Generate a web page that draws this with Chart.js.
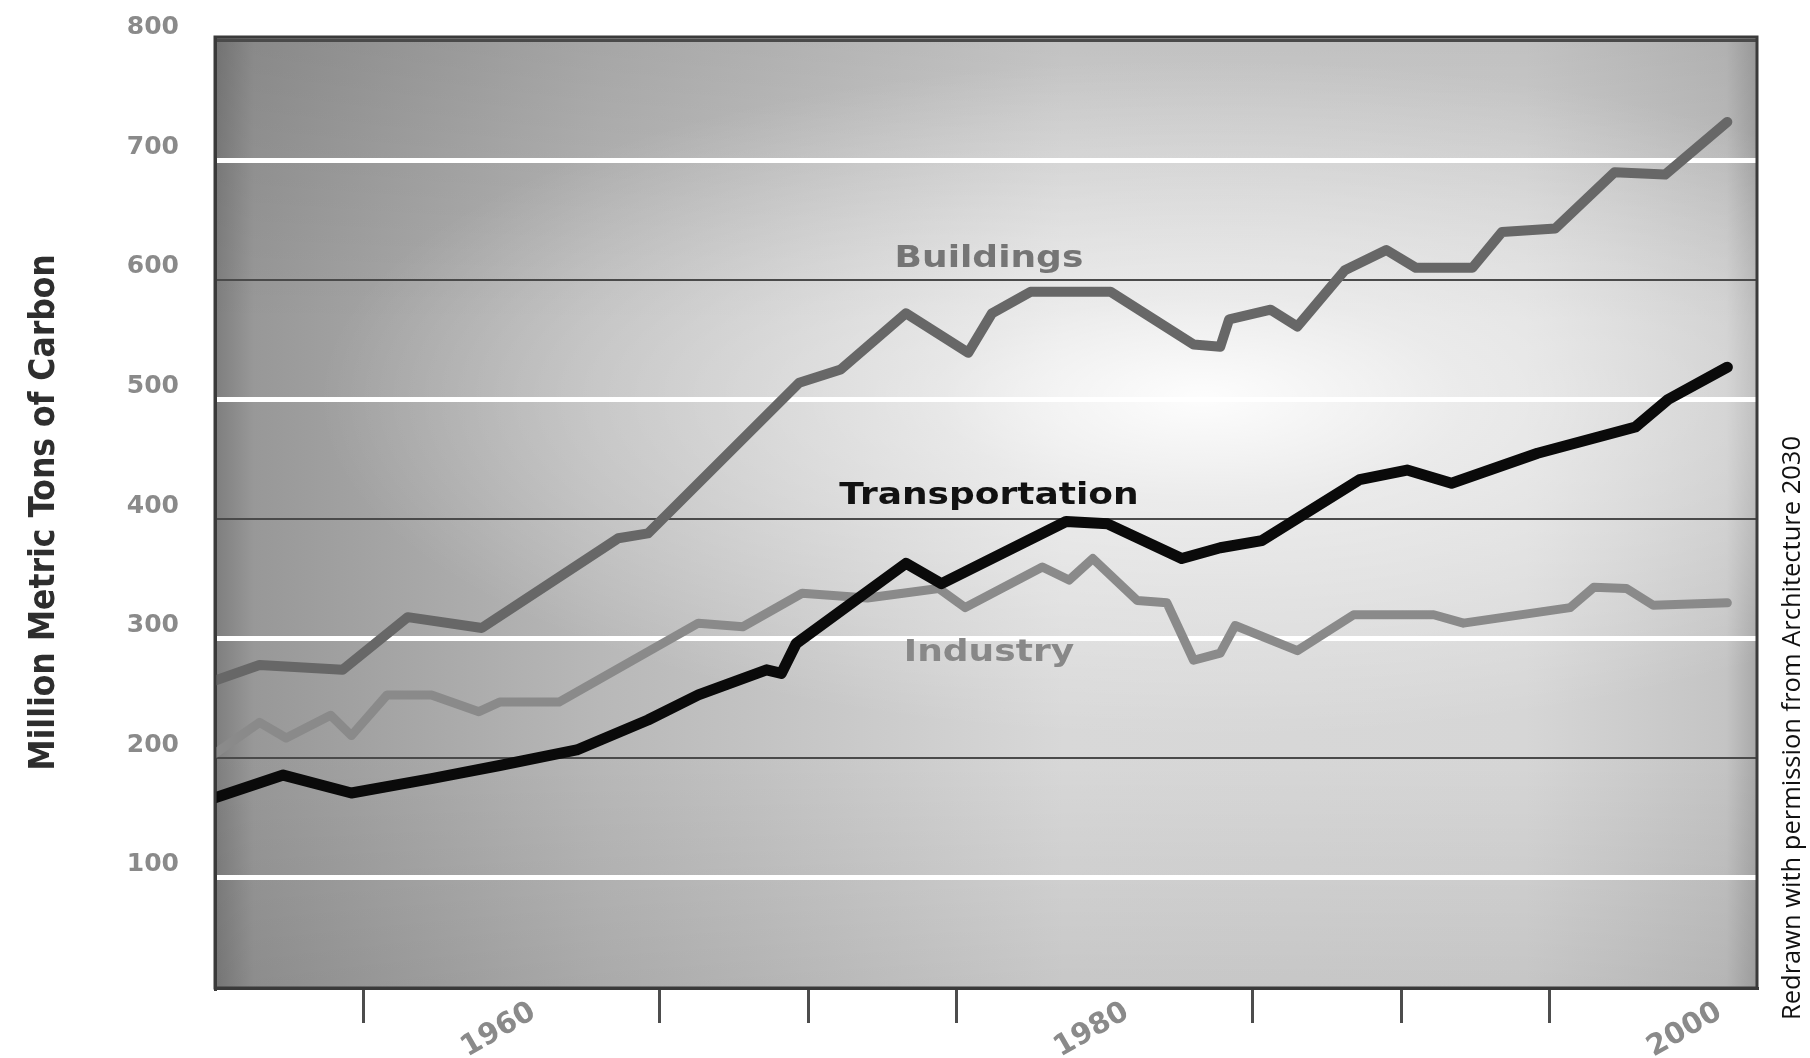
<!DOCTYPE html>
<html>
<head>
<meta charset="utf-8">
<title>Carbon emissions by sector</title>
<script src="https://cdn.jsdelivr.net/npm/chart.js@4.4.1/dist/chart.umd.min.js"></script>
<style>
  html, body { margin: 0; padding: 0; background: #ffffff; }
  #wrap { width: 1810px; height: 1058px; position: relative; }
</style>
</head>
<body>
<div id="wrap"><canvas id="carbon-chart"></canvas></div>
<script>
// values (years, million metric tons of carbon)
const buildingsYears = [1950, 1951.5, 1954.3, 1956.5, 1959, 1963.6, 1964.6, 1969.7, 1971.1, 1973.3, 1975.4, 1976.2, 1977.5, 1980.2, 1983, 1983.9, 1984.2, 1985.6, 1986.5, 1988.1, 1989.5, 1990.5, 1992.4, 1993.4, 1995.2, 1997.2, 1998.9, 2001];
const buildingsValues = [265, 278, 274, 318, 309, 384, 388, 514, 525, 572, 539, 572, 590, 590, 546, 544, 567, 575, 561, 608, 625, 610, 610, 640, 643, 690, 688, 732];

const transportYears = [1950, 1952.3, 1954.6, 1957.3, 1959.6, 1962.2, 1964.6, 1966.3, 1968.6, 1969.1, 1969.6, 1973.3, 1974.5, 1978.7, 1980.1, 1982.6, 1983.9, 1985.3, 1988.6, 1990.2, 1991.7, 1994.6, 1997.9, 1999, 2001];
const transportValues = [167, 186, 171, 183, 194, 207, 232, 253, 274, 271, 296, 363, 346, 398, 396, 367, 376, 382, 433, 441, 430, 455, 477, 500, 527];

const industryYears = [1950, 1951.5, 1952.4, 1953.9, 1954.6, 1955.8, 1957.3, 1958.9, 1959.6, 1961.6, 1966.3, 1967.8, 1969.8, 1972, 1974.4, 1975.3, 1977.9, 1978.8, 1979.6, 1981.1, 1982.1, 1983, 1983.9, 1984.4, 1986.5, 1988.4, 1991.1, 1992.1, 1995.7, 1996.5, 1997.6, 1998.5, 2001];
const industryValues = [204, 230, 217, 236, 219, 253, 253, 239, 247, 247, 313, 310, 338, 334, 342, 326, 360, 349, 367, 332, 330, 282, 288, 311, 290, 320, 320, 313, 326, 343, 342, 328, 330];

const yTickValues = [100, 200, 300, 400, 500, 600, 700, 800];
const xTickYears = [1955, 1960, 1965, 1970, 1975, 1980, 1985, 1990, 1995, 2000];
const xLabelYears = [1960, 1980, 2000];

function toPoints(years, values) {
  return years.map((year, i) => ({ x: year, y: values[i] }));
}

const tickFamily = '"DejaVu Sans", Verdana, sans-serif';

// shaded plot background with a bright glow in the middle
const plotBackground = {
  id: "plotBackground",
  beforeDraw(chart) {
    const { ctx, chartArea: a } = chart;
    const w = a.right - a.left;
    const h = a.bottom - a.top;
    ctx.save();
    let g = ctx.createLinearGradient(a.left, 0, a.right, 0);
    g.addColorStop(0, "#7e7e7e");
    g.addColorStop(0.025, "#989898");
    g.addColorStop(0.25, "#b8b8b8");
    g.addColorStop(0.55, "#d8d8d8");
    g.addColorStop(0.85, "#d6d6d6");
    g.addColorStop(0.98, "#c4c4c4");
    g.addColorStop(1, "#a8a8a8");
    ctx.fillStyle = g;
    ctx.fillRect(a.left, a.top, w, h);

    g = ctx.createLinearGradient(0, a.top, 0, a.bottom);
    g.addColorStop(0, "rgba(0,0,0,0.10)");
    g.addColorStop(0.3, "rgba(0,0,0,0)");
    g.addColorStop(0.75, "rgba(0,0,0,0)");
    g.addColorStop(1, "rgba(0,0,0,0.08)");
    ctx.fillStyle = g;
    ctx.fillRect(a.left, a.top, w, h);

    ctx.beginPath();
    ctx.rect(a.left, a.top, w, h);
    ctx.clip();
    const cx = a.left + 0.64 * w;
    const cy = a.top + 0.38 * h;
    ctx.translate(cx, cy);
    ctx.scale(2.6, 1);
    const r = ctx.createRadialGradient(0, 0, 0, 0, 0, 340);
    r.addColorStop(0, "rgba(255,255,255,0.95)");
    r.addColorStop(0.3, "rgba(255,255,255,0.5)");
    r.addColorStop(1, "rgba(255,255,255,0)");
    ctx.fillStyle = r;
    ctx.fillRect(-400, -400, 800, 800);
    ctx.restore();
  },
  afterDraw(chart) {
    const { ctx, chartArea: a } = chart;
    ctx.save();
    ctx.strokeStyle = "#3a3a3a";
    ctx.lineWidth = 3;
    ctx.strokeRect(a.left, a.top, a.right - a.left, a.bottom - a.top);
    ctx.restore();
  },
};

// series names written inside the plot, plus the credit line on the right
const textLabels = {
  id: "textLabels",
  afterDatasetsDraw(chart) {
    const { ctx } = chart;
    const xs = chart.scales.x;
    const ys = chart.scales.y;
    const items = [
      { text: "Buildings", year: 1976.1, value: 617, color: "#757575" },
      { text: "Transportation", year: 1976.1, value: 419, color: "#111111" },
      { text: "Industry", year: 1976.1, value: 288, color: "#888888" },
    ];
    ctx.save();
    ctx.font = 'bold 30px "DejaVu Sans", Verdana, sans-serif';
    ctx.textAlign = "center";
    ctx.textBaseline = "middle";
    items.forEach((it) => {
      ctx.save();
      ctx.translate(xs.getPixelForValue(it.year), ys.getPixelForValue(it.value));
      ctx.scale(1.2, 1);
      ctx.fillStyle = it.color;
      ctx.fillText(it.text, 0, 0);
      ctx.restore();
    });

    ctx.translate(1793, 728);
    ctx.rotate(-Math.PI / 2);
    ctx.font = '25.5px "Open Sans", sans-serif';
    ctx.fillStyle = "#111111";
    ctx.fillText("Redrawn with permission from Architecture 2030", 0, 0);
    ctx.restore();
  },
};

const ctx = document.getElementById("carbon-chart").getContext("2d");

const carbonChart = new Chart(ctx, {
  type: "line",
  data: {
    datasets: [
      {
        label: "Transportation",
        data: toPoints(transportYears, transportValues),
        borderColor: "#0a0a0a",
        borderWidth: 11,
        order: 0,
      },
      {
        label: "Buildings",
        data: toPoints(buildingsYears, buildingsValues),
        borderColor: "#676767",
        borderWidth: 10,
        order: 1,
      },
      {
        label: "Industry",
        data: toPoints(industryYears, industryValues),
        borderColor: "#8a8a8a",
        borderWidth: 9,
        order: 2,
      },
    ],
  },
  options: {
    responsive: true,
    maintainAspectRatio: false,
    animation: false,
    layout: {
      padding: { left: 0, top: 37, right: 53, bottom: 0 },
    },
    elements: {
      point: { radius: 0, hoverRadius: 0 },
      line: { tension: 0, borderJoinStyle: "round", borderCapStyle: "round", fill: false },
    },
    plugins: {
      legend: { display: false },
      tooltip: { enabled: false },
    },
    scales: {
      x: {
        type: "linear",
        min: 1950,
        max: 2002,
        afterFit: function (scale) {
          scale.height = 70;
        },
        afterBuildTicks: function (scale) {
          scale.ticks = xTickYears.map((v) => ({ value: v }));
        },
        grid: {
          drawOnChartArea: false,
          drawTicks: true,
          tickLength: 35,
          lineWidth: 3,
          color: function (c) {
            return c.tick && xLabelYears.includes(c.tick.value) ? "rgba(0,0,0,0)" : "#4d4d4d";
          },
        },
        border: { display: true, color: "#3a3a3a", width: 3 },
        ticks: {
          autoSkip: false,
          minRotation: 30,
          maxRotation: 30,
          padding: -28,
          labelOffset: 22,
          color: "#8a8a8a",
          font: { family: tickFamily, size: 29, weight: "bold" },
          callback: function (value) {
            return xLabelYears.includes(value) ? String(value) : "";
          },
        },
      },
      y: {
        min: 8,
        max: 803,
        afterFit: function (scale) {
          scale.width = 215;
        },
        afterBuildTicks: function (scale) {
          scale.ticks = yTickValues.map((v) => ({ value: v }));
        },
        grid: {
          drawTicks: true,
          tickLength: 34,
          tickColor: "rgba(0,0,0,0)",
          color: function (c) {
            if (!c.tick) return "#4a4a4a";
            return c.tick.value % 200 === 100 ? "#ffffff" : "#4a4a4a";
          },
          lineWidth: function (c) {
            if (!c.tick) return 2;
            if (c.tick.value === 800) return 3;
            return c.tick.value % 200 === 100 ? 5 : 2;
          },
        },
        border: { display: true, color: "#3a3a3a", width: 3 },
        ticks: {
          padding: 2,
          labelOffset: -13,
          color: "#8a8a8a",
          font: { family: tickFamily, size: 25, weight: "bold" },
        },
        title: {
          display: true,
          text: "Million Metric Tons of Carbon",
          color: "#2e2e2e",
          padding: { top: 24, bottom: 0 },
          font: {
            family: '"Liberation Sans Narrow", "DejaVu Sans Condensed", "Liberation Sans", sans-serif',
            size: 35,
            weight: "bold",
          },
        },
      },
    },
  },
  plugins: [plotBackground, textLabels],
});
</script>
</body>
</html>
